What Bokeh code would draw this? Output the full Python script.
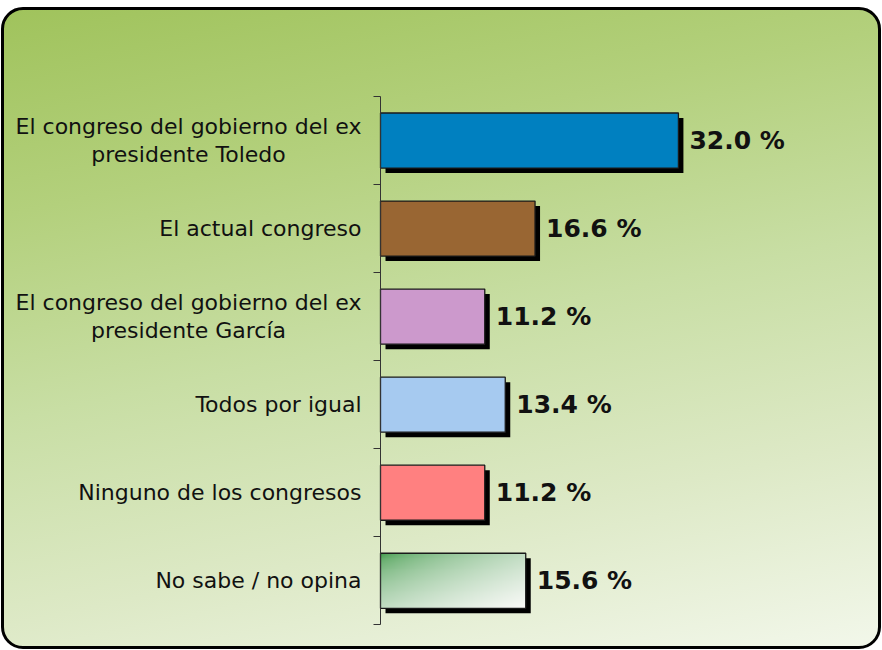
import numpy as np
from bokeh.plotting import figure
from bokeh.models import FixedTicker, Range1d
from bokeh.embed import file_html
from bokeh.resources import INLINE
from bokeh.core.properties import value

# ---- data ----
categories = [
    "El congreso del gobierno del ex\npresidente Toledo",
    "El actual congreso",
    "El congreso del gobierno del ex\npresidente García",
    "Todos por igual",
    "Ninguno de los congresos",
    "No sabe / no opina",
]
values = [32.0, 16.6, 11.2, 13.4, 11.2, 15.6]
value_labels = ["32.0 %", "16.6 %", "11.2 %", "13.4 %", "11.2 %", "15.6 %"]
bar_colors = ["#0080c0", "#996633", "#cc99cc", "#a6caf0", "#ff8080", "#ffffff"]
bar_alphas = [1, 1, 1, 1, 1, 0]

n = len(categories)
ycent = [n - i - 0.5 for i in range(n)]
bar_h = 0.625

W, H = 880, 642          # canvas size (CSS border drawn around it)
AX_X = 376               # axis position inside canvas
TOP_PX, BOT_PX = 86, 614.3
px_per_x = 9.31
px_per_y = (BOT_PX - TOP_PX) / n

x_start = -AX_X / px_per_x
x_end = (W - AX_X) / px_per_x
y_end = n + TOP_PX / px_per_y
y_start = -(H - BOT_PX) / px_per_y

p = figure(width=W, height=H, output_backend="svg", toolbar_location=None,
           x_range=Range1d(x_start, x_end), y_range=Range1d(y_start, y_end),
           min_border=0, tools="")
p.background_fill_alpha = 0
p.border_fill_alpha = 0
p.outline_line_color = None
p.xgrid.visible = False
p.ygrid.visible = False
p.xaxis.visible = False
p.styles = {
    "margin-left": "1px",
    "margin-top": "7px",
    "border": "3px solid #000",
    "border-radius": "22px",
    "background": "linear-gradient(168deg, #a0c35c 0%, #b3d07c 25%, #c8dea4 50%, #dde9c6 75%, #f2f7ea 100%)",
}

# y axis (line + boundary ticks), drawn at x = 0
ax = p.yaxis[0]
ax.fixed_location = 0
ax.bounds = (0, n)
ax.ticker = FixedTicker(ticks=[], minor_ticks=list(range(n + 1)))
ax.major_label_text_font_size = "0px"
ax.major_tick_out = 0
ax.major_tick_in = 0
ax.minor_tick_out = 7
ax.minor_tick_in = 0
ax.minor_tick_line_color = "#333333"
ax.axis_line_color = "#333333"

# category labels
p.text(x=[0] * n, y=ycent, text=categories, x_offset=-19,
       anchor="center_right", text_align="center", text_baseline="middle",
       text_font=value("DejaVu Sans"), text_font_size="22px", text_color="#111111",
       text_line_height=1.13)

# shadows
dx = 5 / px_per_x
dy = 5 / px_per_y
p.quad(left=[dx] * n, right=[v + dx for v in values],
       top=[y + bar_h / 2 - dy for y in ycent], bottom=[y - bar_h / 2 - dy for y in ycent],
       fill_color="#000000", line_color=None)

# gradient fill for last bar (style only)
gh, gw = 60, 160
u = np.linspace(0, 1, gw)[None, :]
v = np.linspace(1, 0, gh)[:, None]  # row 0 = bottom
t = np.clip((u + v) / 2, 0, 1) ** 0.5
g0 = np.array([55, 150, 65])
g1 = np.array([250, 250, 248])
rgb = g0[None, None, :] * (1 - t[..., None]) + g1[None, None, :] * t[..., None]
img = np.empty((gh, gw), dtype=np.uint32)
view = img.view(dtype=np.uint8).reshape((gh, gw, 4))
view[..., 0] = rgb[..., 0]
view[..., 1] = rgb[..., 1]
view[..., 2] = rgb[..., 2]
view[..., 3] = 255
last = n - 1
p.image_rgba(image=[img], x=0, y=ycent[last] - bar_h / 2, dw=values[last], dh=bar_h)

# bars
p.quad(left=[0] * n, right=values,
       top=[y + bar_h / 2 for y in ycent], bottom=[y - bar_h / 2 for y in ycent],
       fill_color=bar_colors, fill_alpha=bar_alphas, line_color="#1a1a1a", line_width=1.3)

# value labels
p.text(x=values, y=ycent, text=value_labels, x_offset=11, text_baseline="middle",
       text_font=value("DejaVu Sans"), text_font_style="bold", text_font_size="25px",
       text_color="#111111")

open("out.html", "w").write(file_html(p, INLINE))
